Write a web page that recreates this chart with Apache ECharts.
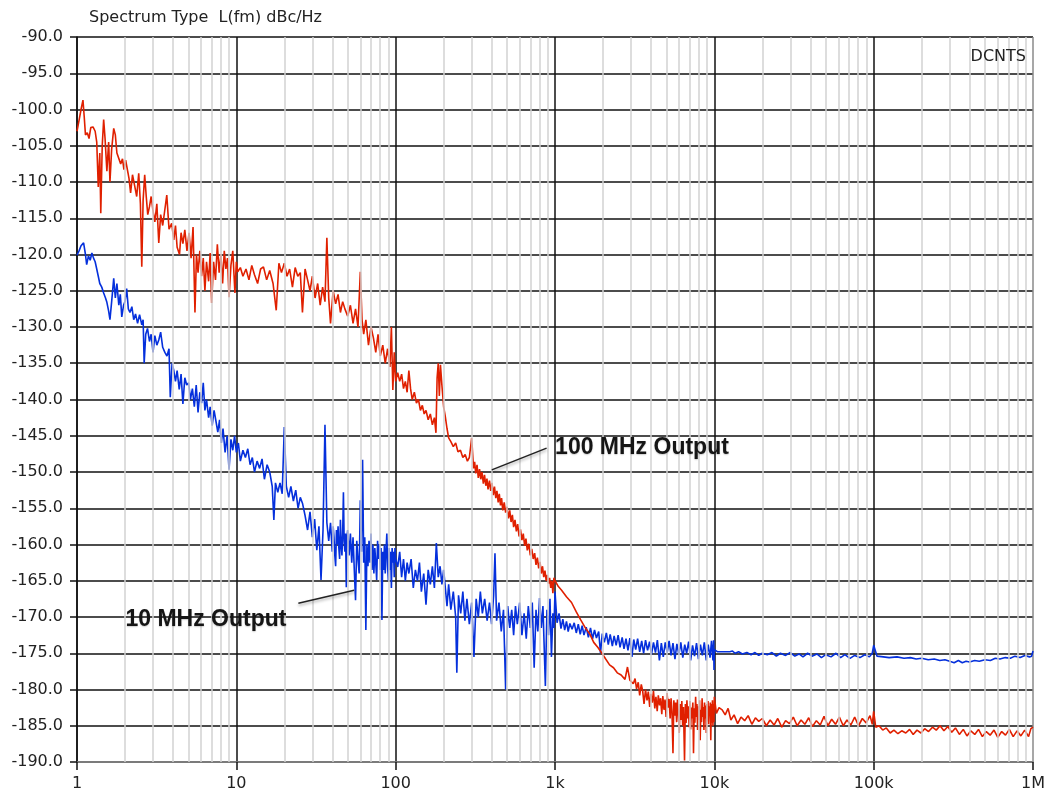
<!DOCTYPE html>
<html>
<head>
<meta charset="utf-8">
<script src="https://cdn.jsdelivr.net/npm/echarts@6/dist/echarts.min.js"></script>
<style>
html,body{margin:0;padding:0;background:#fff;}
#chart{width:1048px;height:797px;}
</style>
</head>
<body>
<div id="chart"></div>
<script>
// ---- tick labels ----
const xTickLabels = ['1', '10', '100', '1k', '10k', '100k', '1M'];
const decades = [1, 10, 100, 1000, 10000, 100000];
const minorMultipliers = [2, 3, 4, 5, 6, 7, 8, 9];

// ---- 100 MHz Output (red): [offset frequency Hz, dBc/Hz] ----
const red100MHz = [
[1.00,-103.0],[1.03,-101.5],[1.06,-100.0],[1.09,-98.7],[1.11,-101.0],[1.13,-103.5],[1.16,-103.2],[1.19,-104.0],[1.22,-102.5],[1.26,-102.4],
[1.30,-103.0],[1.33,-104.5],[1.36,-110.7],[1.39,-106.0],[1.41,-114.3],[1.44,-105.0],[1.47,-101.4],[1.50,-104.0],[1.54,-108.5],[1.58,-104.5],
[1.61,-110.0],[1.65,-105.5],[1.70,-102.6],[1.74,-103.5],[1.78,-106.0],[1.83,-105.8],[1.88,-107.5],[1.93,-106.8],[1.97,-108.3],[2.02,-107.0],
[2.07,-107.2],[2.12,-109.5],[2.17,-111.5],[2.23,-109.0],[2.30,-110.5],[2.37,-112.0],[2.44,-108.8],[2.50,-113.0],[2.55,-121.7],[2.60,-112.5],
[2.66,-109.0],[2.72,-112.0],[2.78,-114.5],[2.85,-113.4],[2.92,-112.0],[3.00,-114.0],[3.08,-115.5],[3.17,-113.0],[3.26,-118.4],[3.35,-114.5],
[3.45,-116.0],[3.55,-114.0],[3.66,-111.8],[3.78,-116.5],[3.93,-115.7],[4.05,-118.0],[4.15,-116.0],[4.25,-119.0],[4.40,-120.0],[4.50,-117.0],
[4.62,-118.5],[4.75,-116.6],[4.90,-119.5],[5.05,-117.0],[5.20,-120.5],[5.35,-116.2],[5.50,-128.0],[5.62,-120.0],[5.75,-122.5],[5.90,-119.5],
[6.05,-123.0],[6.20,-120.5],[6.35,-125.0],[6.50,-121.0],[6.70,-123.7],[6.85,-119.8],[7.00,-126.7],[7.20,-121.0],[7.40,-123.5],[7.60,-118.6],
[7.80,-122.5],[8.00,-120.0],[8.20,-124.0],[8.40,-119.5],[8.60,-122.0],[8.80,-120.5],[9.00,-125.9],[9.25,-121.5],[9.50,-119.5],[9.80,-125.3],
[10.0,-121.0],[10.2,-122.4],[10.6,-121.8],[11.0,-123.0],[11.5,-122.0],[12.0,-123.5],[12.5,-121.5],[13.0,-122.8],[13.6,-124.0],[14.2,-122.0],
[14.8,-121.7],[15.5,-123.5],[16.2,-122.2],[17.0,-124.0],[17.8,-127.7],[18.5,-121.2],[19.2,-122.5],[20.0,-121.2],[20.8,-123.0],[21.6,-122.0],
[22.5,-124.5],[23.4,-121.8],[24.3,-123.0],[25.2,-122.5],[26.0,-128.0],[27.0,-122.0],[28.0,-123.5],[29.0,-125.0],[30.0,-123.0],[31.2,-126.0],
[32.4,-124.0],[33.6,-127.0],[34.8,-124.5],[36.0,-126.5],[37.0,-117.7],[38.0,-126.0],[39.0,-129.5],[40.5,-125.0],[42.0,-126.8],[43.5,-125.5],
[45.0,-128.0],[46.5,-126.5],[48.0,-127.5],[50.0,-128.5],[52.0,-127.0],[54.0,-129.5],[56.0,-127.5],[58.0,-130.0],[60.0,-122.4],[61.5,-129.0],
[63.0,-131.0],[65.0,-129.0],[67.5,-132.5],[70.0,-130.0],[72.5,-131.5],[75.0,-133.5],[77.5,-131.0],[80.0,-134.0],[83.0,-132.5],[86.0,-135.0],
[89.0,-133.0],[92.0,-135.5],[94.0,-130.0],[96.0,-138.7],[98.0,-133.5],[100,-137.5],
[103,-136.3],[106,-137.5],[109,-136.5],[112,-138.5],[115,-137.5],[118,-139.0],[121,-136.0],[124,-138.5],[127,-140.0],[131,-139.0],
[135,-140.5],[139,-140.0],[143,-141.5],[147,-140.8],[151,-142.0],[155,-141.5],[160,-142.8],[165,-142.0],[170,-143.5],[175,-142.5],
[179,-144.6],[182,-137.0],[185,-135.0],[188,-139.5],[191,-135.2],[195,-138.0],[200,-141.0],[205,-142.4],[210,-144.0],[215,-145.3],
[222,-145.8],[230,-146.5],[238,-146.0],[246,-147.2],[255,-147.0],[264,-148.0],[273,-147.6],[282,-148.5],[290,-148.0],[300,-145.3],
[308,-149.5],[313,-148.6],[318,-150.2],[324,-149.0],[330,-150.8],[336,-149.6],[342,-151.0],[348,-150.0],[355,-151.6],[361,-150.4],
[368,-151.9],[374,-150.9],[380,-152.4],[388,-151.2],[395,-152.6],[402,-151.5],[410,-153.2],[417,-152.0],[425,-153.6],[432,-152.6],
[440,-154.2],[447,-153.0],[455,-154.6],[462,-153.6],[470,-155.3],[480,-154.2],[490,-155.6],[500,-154.8],[510,-156.4],[520,-155.3],
[530,-156.9],[540,-155.9],[550,-157.6],[561,-156.6],[572,-158.2],[583,-157.2],[595,-158.9],[607,-157.9],[620,-159.4],[632,-158.5],
[645,-160.2],[657,-159.2],[670,-160.8],[685,-159.9],[700,-161.5],[715,-160.6],[730,-162.0],[745,-161.2],[760,-162.8],[775,-161.8],
[790,-163.3],[805,-162.4],[820,-164.0],[835,-163.0],[850,-164.5],[865,-163.6],[880,-165.0],[895,-164.2],[910,-165.4],[925,-164.6],
[940,-166.0],[955,-165.0],[970,-166.7],[985,-164.6],[1000,-165.0],
[1050,-165.8],[1100,-166.3],[1180,-167.2],[1270,-168.0],[1360,-169.3],[1450,-170.4],[1550,-171.5],[1650,-172.3],[1750,-173.5],[1860,-174.2],
[1970,-175.0],[2080,-175.8],[2200,-176.6],[2330,-177.0],[2460,-177.7],[2600,-178.0],[2750,-178.6],[2850,-176.9],[2950,-178.7],
[3100,-179.2],[3180,-178.5],[3250,-179.9],[3330,-179.0],[3400,-180.8],[3480,-179.3],[3550,-180.2],[3620,-182.0],[3700,-180.0],[3780,-181.5],
[3850,-180.3],[3930,-182.4],[4000,-180.6],[4080,-181.8],[4150,-180.2],[4230,-182.6],[4300,-181.0],[4380,-183.0],[4450,-180.8],[4530,-182.2],
[4600,-181.2],[4680,-183.4],[4750,-180.9],[4830,-182.8],[4900,-181.4],[4980,-183.8],[5050,-180.5],[5130,-182.5],[5200,-181.3],[5280,-184.0],
[5350,-181.2],[5420,-183.0],[5500,-188.8],[5570,-181.5],[5650,-183.6],[5720,-181.8],[5800,-184.5],[5870,-181.4],[5950,-183.2],[6020,-186.0],
[6100,-182.0],[6180,-184.2],[6250,-181.6],[6330,-185.0],[6400,-182.4],[6500,-189.8],[6580,-182.0],[6650,-184.6],[6730,-181.5],[6800,-184.0],
[6880,-182.3],[6950,-185.2],[7030,-181.6],[7100,-185.5],[7180,-182.5],[7250,-184.0],[7330,-181.8],[7400,-188.8],[7480,-182.6],[7550,-184.6],
[7630,-181.0],[7700,-183.8],[7780,-182.0],[7850,-185.6],[7930,-182.3],[8000,-184.2],[8080,-181.5],[8150,-187.0],[8230,-182.8],[8300,-184.5],
[8380,-181.2],[8450,-183.8],[8530,-182.4],[8600,-185.6],[8680,-181.8],[8750,-184.0],[8830,-182.2],[8900,-186.0],[8980,-182.0],[9050,-184.4],
[9130,-181.6],[9200,-184.8],[9280,-182.3],[9350,-183.6],[9430,-181.8],[9500,-187.0],[9580,-182.0],[9650,-184.6],[9730,-181.5],[9800,-185.0],
[9870,-182.0],[9940,-184.5],[10000,-181.0],
[10300,-183.3],[10700,-182.5],[11200,-182.8],[11700,-183.5],[12200,-182.6],[12700,-184.2],[13300,-183.5],[14000,-184.7],[14700,-183.8],[15500,-184.3],
[16300,-183.6],[17200,-184.8],[18100,-183.9],[19000,-184.4],[20000,-184.0],[21200,-185.0],[22400,-184.2],[23700,-184.9],[25000,-184.0],[26500,-185.2],
[28000,-184.3],[29600,-184.7],[31300,-183.8],[33100,-185.0],[35000,-184.2],[37000,-184.8],[39100,-183.9],[41300,-185.1],[43700,-184.3],[46200,-184.9],
[48800,-183.7],[51600,-185.0],[54500,-184.1],[57600,-184.8],[60900,-183.8],[64400,-185.0],[68000,-184.2],[71900,-184.9],[76000,-183.8],[80300,-185.0],
[84900,-184.0],[89700,-184.6],[94800,-183.6],[98000,-184.8],[100000,-183.0],[103000,-185.2],[108000,-185.0],[114000,-185.6],[120000,-185.3],[127000,-186.0],
[134000,-185.6],[142000,-186.1],[150000,-185.7],[159000,-186.0],[168000,-185.5],[177000,-186.2],[187000,-185.6],[198000,-186.0],[209000,-185.4],[221000,-185.8],
[234000,-185.2],[247000,-185.6],[261000,-185.0],[276000,-185.7],[292000,-185.1],[309000,-185.9],[326000,-185.3],[345000,-186.2],[365000,-185.5],[385000,-186.4],
[407000,-185.7],[431000,-186.2],[455000,-185.5],[481000,-186.5],[509000,-185.8],[538000,-186.3],[569000,-185.6],[601000,-186.6],[636000,-185.8],[672000,-186.3],
[710000,-185.5],[751000,-186.5],[794000,-185.7],[839000,-186.4],[887000,-185.6],[938000,-186.5],[970000,-185.4],[1000000,-185.2]
];

// ---- 10 MHz Output (blue): [offset frequency Hz, dBc/Hz] ----
const blue10MHz = [
[1.00,-120.1],[1.03,-119.5],[1.06,-118.8],[1.10,-118.4],[1.13,-120.0],[1.15,-121.4],[1.18,-120.2],[1.21,-120.8],[1.24,-119.8],[1.27,-120.5],
[1.30,-121.0],[1.33,-122.0],[1.36,-123.0],[1.39,-124.0],[1.43,-124.5],[1.47,-125.3],[1.51,-126.0],[1.54,-126.6],[1.58,-127.8],[1.61,-129.0],
[1.65,-126.5],[1.70,-123.3],[1.74,-126.0],[1.78,-124.0],[1.83,-127.0],[1.87,-125.5],[1.91,-128.6],[1.96,-127.0],[2.00,-126.5],[2.05,-124.7],
[2.10,-127.5],[2.15,-128.0],[2.21,-127.2],[2.27,-129.0],[2.33,-128.2],[2.40,-129.5],[2.47,-128.3],[2.55,-129.7],[2.60,-129.0],[2.64,-135.0],
[2.70,-131.0],[2.77,-130.2],[2.85,-132.0],[2.92,-131.0],[3.00,-133.5],[3.08,-131.2],[3.17,-132.5],[3.26,-131.8],[3.35,-130.7],[3.45,-132.8],
[3.56,-133.5],[3.67,-134.0],[3.78,-133.0],[3.85,-139.7],[3.95,-135.0],[4.05,-136.0],[4.15,-137.5],[4.25,-136.0],[4.38,-138.6],[4.50,-136.5],
[4.62,-140.6],[4.75,-137.0],[4.88,-138.0],[5.02,-137.7],[5.15,-140.0],[5.30,-138.5],[5.45,-141.0],[5.60,-138.0],[5.75,-141.8],[5.90,-139.0],
[6.05,-140.5],[6.20,-137.7],[6.35,-141.5],[6.50,-140.0],[6.70,-142.5],[6.85,-141.0],[7.05,-143.6],[7.25,-141.5],[7.45,-143.0],[7.65,-144.5],
[7.85,-142.8],[8.05,-146.0],[8.25,-144.0],[8.50,-147.3],[8.75,-145.0],[9.00,-149.7],[9.25,-145.5],[9.50,-147.0],[9.75,-145.0],[10.0,-147.3],
[10.3,-146.0],[10.6,-148.5],[11.0,-147.0],[11.4,-148.0],[11.8,-146.8],[12.2,-149.0],[12.6,-148.0],[13.0,-150.0],[13.5,-148.5],[14.0,-149.5],
[14.5,-148.2],[15.0,-151.0],[15.6,-149.0],[16.2,-150.0],[16.8,-152.0],[17.2,-156.6],[17.6,-151.5],[18.2,-152.8],[18.8,-151.5],[19.4,-153.0],
[20.0,-143.8],[20.6,-152.0],[21.3,-153.5],[22.0,-152.0],[22.8,-154.0],[23.6,-152.5],[24.4,-155.0],[25.2,-153.5],[26.0,-154.3],[27.0,-156.0],
[28.0,-158.0],[29.0,-155.5],[30.0,-159.0],[31.0,-156.5],[32.0,-160.8],[33.0,-157.5],[34.0,-164.9],[35.0,-158.0],[36.0,-143.5],[37.0,-157.0],
[38.0,-159.5],[39.0,-157.0],
[40.0,-161.0],[40.5,-157.5],[41.0,-159.0],[41.5,-161.5],[42.0,-163.0],[42.5,-158.0],[43.0,-160.0],[43.5,-157.5],[44.0,-160.5],[44.5,-162.0],
[45.0,-156.6],[45.5,-160.0],[46.0,-161.5],[46.5,-158.5],[47.0,-152.8],[47.5,-159.5],[48.0,-161.0],[48.5,-158.5],[49.0,-165.9],[49.5,-159.0],
[50.0,-158.0],[51.0,-161.5],[52.0,-158.5],[53.0,-162.5],[54.0,-159.0],[55.0,-163.5],[56.0,-167.7],[57.0,-159.5],[58.0,-162.0],[59.0,-164.0],
[60.0,-153.9],[61.0,-161.0],[62.0,-148.3],[63.0,-162.5],[64.0,-159.0],[65.0,-171.8],[66.0,-160.0],[67.0,-163.0],[68.0,-159.5],[69.0,-162.5],
[70.0,-158.5],[71.0,-163.5],[72.0,-160.0],[73.0,-164.0],[74.0,-160.5],[75.0,-162.5],[76.0,-164.9],[77.0,-159.5],[78.0,-162.0],[79.0,-160.0],
[80.0,-163.5],[81.0,-160.5],[82.0,-170.4],[83.0,-161.0],[84.0,-163.5],[85.0,-160.0],[86.0,-164.0],[87.0,-161.0],[88.0,-158.5],[89.0,-163.0],
[90.0,-165.0],[91.0,-160.5],[92.0,-163.5],[93.0,-161.0],[94.0,-166.0],[95.0,-160.5],[96.0,-162.5],[97.0,-161.0],[98.0,-164.5],[99.0,-160.5],
[100,-162.0],
[103,-163.1],[106,-161.0],[109,-164.5],[112,-162.0],[115,-165.0],[118,-162.5],[121,-164.0],[125,-162.0],[129,-166.0],[133,-163.5],
[137,-165.0],[141,-162.5],[145,-166.5],[150,-164.0],[155,-168.3],[160,-163.5],[165,-165.5],[170,-163.0],[175,-166.0],[180,-159.8],
[185,-164.5],[190,-163.0],[195,-165.5],[200,-163.5],[205,-166.0],[210,-168.5],[215,-165.5],[222,-169.0],[230,-166.5],[238,-170.0],
[242,-177.7],[248,-167.0],[256,-169.5],[264,-166.5],[272,-170.5],[280,-167.5],[290,-171.0],[300,-168.0],[310,-175.5],[320,-167.5],
[330,-170.0],[340,-166.5],[350,-169.5],[362,-167.5],[375,-170.5],[388,-168.0],[400,-171.0],[412,-167.0],[420,-161.2],[430,-170.5],
[445,-168.0],[460,-172.0],[475,-169.0],[490,-180.0],[505,-168.5],[520,-171.5],[535,-169.0],[550,-172.5],[565,-168.5],[580,-171.0],
[600,-168.0],[620,-172.5],[640,-169.5],[660,-173.0],[680,-168.5],[700,-171.5],[720,-168.0],[740,-177.0],[760,-169.0],[780,-172.0],
[800,-167.4],[820,-171.5],[840,-168.5],[870,-179.5],[890,-169.0],[910,-172.5],[930,-167.5],[950,-175.5],[970,-169.5],[985,-171.5],
[1000,-166.5],
[1030,-170.8],[1060,-169.5],[1090,-171.6],[1120,-170.3],[1150,-171.8],[1180,-170.6],[1210,-172.0],[1240,-170.9],[1280,-171.7],[1320,-170.8],
[1360,-172.2],[1400,-171.0],[1440,-172.4],[1480,-171.2],[1520,-172.5],[1570,-171.4],[1620,-172.8],[1670,-171.5],[1720,-173.0],[1770,-171.8],
[1820,-172.9],[1880,-172.0],[1930,-175.0],[1980,-172.3],[2040,-173.5],[2100,-172.2],[2160,-173.8],[2220,-172.4],[2290,-174.0],[2350,-172.6],
[2420,-173.9],[2490,-172.5],[2560,-174.2],[2640,-172.8],[2710,-174.4],[2790,-173.0],[2870,-174.6],[2950,-172.9],[3040,-175.5],[3120,-173.1],
[3210,-174.5],[3300,-173.0],[3400,-174.8],[3500,-173.3],[3600,-175.0],[3700,-173.2],[3810,-174.6],[3920,-173.4],[4030,-175.2],[4150,-173.5],
[4270,-174.9],[4390,-173.2],[4520,-176.0],[4650,-173.6],[4780,-175.5],[4920,-173.5],[5060,-174.9],[5200,-173.3],[5350,-175.3],[5500,-173.6],
[5660,-175.8],[5820,-173.7],[5990,-175.2],[6160,-173.5],[6340,-175.6],[6520,-173.8],[6700,-175.0],[6900,-173.4],[7100,-176.0],[7300,-173.9],
[7510,-175.4],[7730,-173.6],[7950,-175.8],[8180,-173.8],[8410,-175.3],[8650,-173.5],[8900,-176.0],[9150,-173.8],[9400,-175.6],[9600,-173.3],
[9800,-176.0],[9900,-173.2],[9950,-177.3],[10000,-174.5],
[10500,-174.8],[11500,-174.8],[12500,-174.8],[13000,-174.7],[13500,-175.0],[14200,-174.8],[15000,-175.1],[16000,-174.9],[17000,-175.2],[18000,-174.9],
[19000,-175.3],[20000,-175.0],[21500,-175.2],[23000,-174.9],[24500,-175.4],[26000,-175.0],[28000,-175.3],[30000,-174.9],[32000,-175.4],[34000,-175.1],
[36000,-175.5],[38500,-175.0],[41000,-175.4],[44000,-175.1],[47000,-175.6],[50000,-175.2],[54000,-175.5],[58000,-175.0],[62000,-175.6],[66000,-175.2],
[71000,-175.7],[76000,-175.3],[82000,-175.6],[88000,-175.2],[94000,-175.5],[98000,-175.0],[100000,-173.9],[105000,-175.4],[115000,-175.5],[125000,-175.6],
[140000,-175.5],[155000,-175.7],[170000,-175.6],[185000,-175.8],[200000,-175.7],[220000,-175.9],[240000,-175.8],[260000,-176.0],[280000,-175.9],[300000,-176.1],
[320000,-176.3],[340000,-176.0],[360000,-176.3],[380000,-176.1],[400000,-176.2],[430000,-176.0],[460000,-176.1],[500000,-175.9],[540000,-176.0],[580000,-175.7],
[620000,-175.8],[670000,-175.6],[720000,-175.7],[770000,-175.4],[830000,-175.6],[890000,-175.3],[950000,-175.5],[980000,-175.4],[1000000,-174.7]
];

// ---- annotations (data coordinates) ----
const annot100Line = [[401, -149.7], [886, -146.7]];
const annot100Text = [994, -146.7];
const annot10Line = [[24.5, -168.1], [54.9, -166.3]];
const annot10Text = [2.0, -170.4];

const minorX = [];
decades.forEach(d => minorMultipliers.forEach(m => minorX.push(d * m)));

const FONT = 'DejaVu Sans';
const chart = echarts.init(document.getElementById('chart'), null, {renderer: 'canvas'});

const annotLineStyle = {color: '#222', width: 1.5, type: 'solid', shadowBlur: 3, shadowColor: 'rgba(0,0,0,0.35)', shadowOffsetY: 2};
const annotLabel = {show: true, position: 'right', distance: 0, formatter: '{b}', fontFamily: 'Liberation Sans', fontWeight: 'bold', fontSize: 23, color: '#151515', textShadowColor: 'rgba(0,0,0,0.2)', textShadowBlur: 1.5, textShadowOffsetY: 1};

chart.setOption({
  animation: false,
  backgroundColor: '#ffffff',
  title: [
    {text: 'Spectrum Type  L(fm) dBc/Hz', left: 84, top: 5, textStyle: {fontFamily: FONT, fontSize: 16, fontWeight: 'normal', color: '#222'}},
    {text: 'DCNTS', right: 17, top: 44, textStyle: {fontFamily: FONT, fontSize: 16, fontWeight: 'normal', color: '#222'}}
  ],
  grid: {left: 77, right: 11, top: 37, bottom: 35, containLabel: false},
  xAxis: {
    type: 'log', logBase: 10, min: 1, max: 1000000, splitNumber: 6,
    axisLine: {show: true, onZero: false, lineStyle: {color: '#8a8a8a', width: 1.5}},
    axisTick: {show: true, length: 8, lineStyle: {color: '#111', width: 1.5}},
    axisLabel: {margin: 14, fontFamily: FONT, fontSize: 16, color: '#222',
      formatter: v => xTickLabels[Math.round(Math.log10(v))]},
    splitLine: {show: true, lineStyle: {color: ['#111', '#111', '#111', '#111', '#111', '#111', '#8a8a8a'], width: 1.5}},
    minorTick: {show: false}, minorSplitLine: {show: false}
  },
  yAxis: {
    type: 'value', min: -190, max: -90, interval: 5,
    axisLine: {show: true, onZero: false, lineStyle: {color: '#111', width: 1.5}},
    axisTick: {show: true, length: 7, lineStyle: {color: '#111', width: 1.5}},
    axisLabel: {margin: 14, fontFamily: FONT, fontSize: 16, color: '#222', formatter: v => v.toFixed(1)},
    splitLine: {show: true, lineStyle: {color: '#111', width: 1.5}}
  },
  series: [
    {
      name: 'minorGrid', type: 'line', data: [], symbol: 'none', silent: true, z: 1,
      markLine: {
        silent: true, symbol: ['none', 'none'], animation: false,
        label: {show: false},
        lineStyle: {color: '#d2d2d2', width: 1.5, type: 'solid'},
        emphasis: {disabled: true},
        data: minorX.map(v => ({xAxis: v}))
      }
    },
    {
      name: '10 MHz Output', type: 'line', data: blue10MHz, symbol: 'none', z: 3,
      lineStyle: {color: '#0530dc', width: 1.6}, itemStyle: {color: '#0530dc'},
      markLine: {
        silent: true, symbol: ['none', 'none'], label: {show: false}, lineStyle: annotLineStyle,
        data: [[{coord: annot10Line[0]}, {coord: annot10Line[1]}]]
      },
      markPoint: {
        silent: true, symbol: 'rect', symbolSize: 1, itemStyle: {color: 'rgba(0,0,0,0)'}, label: annotLabel,
        data: [{name: '10 MHz Output', coord: annot10Text}]
      }
    },
    {
      name: '100 MHz Output', type: 'line', data: red100MHz, symbol: 'none', z: 4,
      lineStyle: {color: '#e02000', width: 1.6}, itemStyle: {color: '#e02000'},
      markLine: {
        silent: true, symbol: ['none', 'none'], label: {show: false}, lineStyle: annotLineStyle,
        data: [[{coord: annot100Line[0]}, {coord: annot100Line[1]}]]
      },
      markPoint: {
        silent: true, symbol: 'rect', symbolSize: 1, itemStyle: {color: 'rgba(0,0,0,0)'}, label: annotLabel,
        data: [{name: '100 MHz Output', coord: annot100Text}]
      }
    }
  ]
});
</script>
</body>
</html>
